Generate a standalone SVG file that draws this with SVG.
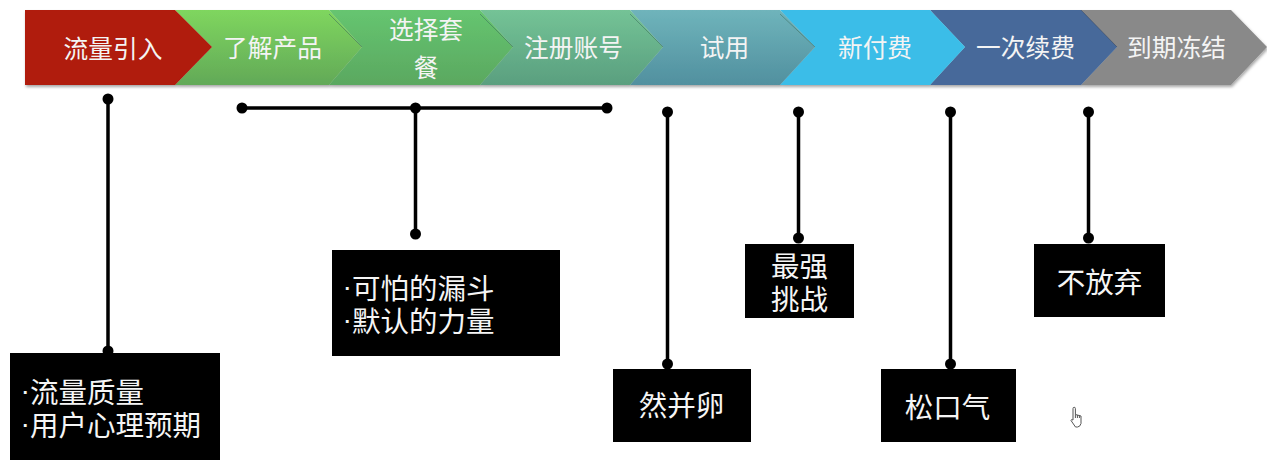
<svg xmlns="http://www.w3.org/2000/svg" width="1267" height="467" viewBox="0 0 1267 467">
<style>
text{font-family:"Noto Sans CJK SC","Noto Sans",sans-serif}
.h{font-size:24.700px;fill:#f4f4f4;text-anchor:middle;dominant-baseline:central}
.b{font-size:28.500px;fill:#f5f5f5;dominant-baseline:central}
.c{font-size:28.500px;fill:#f5f5f5;text-anchor:middle;dominant-baseline:central}
.p{font-family:"Liberation Sans",sans-serif}
.box{fill:#000}
.l{stroke:#000;stroke-width:3.500;fill:none}
.d{fill:#000}
.tick{stroke:#3d6d5c;stroke-width:1;opacity:.55;fill:none}
</style>
<defs>
<linearGradient id="g2" x1="0" y1="0" x2="0" y2="1"><stop offset="0" stop-color="#7fd65e"/><stop offset="1" stop-color="#62a958"/></linearGradient>
<linearGradient id="g3" x1="0" y1="0" x2="0" y2="1"><stop offset="0" stop-color="#66c570"/><stop offset="1" stop-color="#5aa860"/></linearGradient>
<linearGradient id="g4" x1="0" y1="0" x2="0" y2="1"><stop offset="0" stop-color="#74c396"/><stop offset="1" stop-color="#5a9f7f"/></linearGradient>
<linearGradient id="g5" x1="0" y1="0" x2="0" y2="1"><stop offset="0" stop-color="#6fb4bb"/><stop offset="1" stop-color="#51909f"/></linearGradient>
<filter id="s" x="-2%" y="-10%" width="104%" height="125%"><feDropShadow dx="1" dy="2" stdDeviation="1.500" flood-color="#000" flood-opacity=".35"/></filter>
</defs>
<g id="bar" filter="url(#s)">
<g id="step8"><path d="M1081 10H1231L1267 47L1231 85H1081L1117 47Z" fill="#898989"/></g>
<g id="step7"><path d="M930 10H1081L1117 47L1081 85H930L965 47Z" fill="#46699a"/></g>
<g id="step6"><path d="M780 10H930L965 47L930 85H780L815 47Z" fill="#3bbde8"/></g>
<g id="step5"><path d="M630 10H780L815 47L780 85H630L663 47Z" fill="url(#g5)"/></g>
<g id="step4"><path d="M480 10H630L663 47L630 85H480L513 47Z" fill="url(#g4)"/></g>
<g id="step3"><path d="M329 10H480L513 47L480 85H329L362 47Z" fill="url(#g3)"/></g>
<g id="step2"><path d="M175 10H329L362 47L329 85H175L212 47Z" fill="url(#g2)"/></g>
<g id="step1"><path d="M25 10H175L212 47L175 85H25Z" fill="#b01a10"/></g>
</g>
<path class="tick" d="M329 14L362 47M480 14L513 47M630 14L663 47M780 14L815 47"/>
<path d="M1081 10L1117 47" stroke="#2e3f5c" stroke-width="1" opacity=".6" fill="none"/>
<g id="labels">
<text class="h" x="113" y="47">流量引入</text>
<text class="h" x="272.500" y="46">了解产品</text>
<text class="h" x="426" y="28">选择套</text>
<text class="h" x="426" y="66">餐</text>
<text class="h" x="573.500" y="46">注册账号</text>
<text class="h" x="724.500" y="46">试用</text>
<text class="h" x="875" y="46">新付费</text>
<text class="h" x="1025.500" y="46">一次续费</text>
<text class="h" x="1176.500" y="46">到期冻结</text>
</g>
<g id="connectors">
<path class="l" d="M108 99V351M242 108H607M415.500 108V234M667.500 112V364M798.500 112V238M950.500 112V364M1088.500 112V238"/>
<g class="d">
<circle cx="108" cy="99" r="5.500"/><circle cx="108" cy="351" r="5.500"/>
<circle cx="242" cy="108" r="5.500"/><circle cx="415.500" cy="108" r="5.500"/><circle cx="607" cy="108" r="5.500"/><circle cx="415.500" cy="234" r="5.500"/>
<circle cx="667.500" cy="112" r="5.500"/><circle cx="667.500" cy="364" r="5.500"/>
<circle cx="798.500" cy="112" r="5.500"/><circle cx="798.500" cy="238" r="5.500"/>
<circle cx="950.500" cy="112" r="5.500"/><circle cx="950.500" cy="364" r="5.500"/>
<circle cx="1088.500" cy="112" r="5.500"/><circle cx="1088.500" cy="238" r="5.500"/>
</g>
</g>
<g id="box1"><rect class="box" x="10" y="353" width="210" height="107"/>
<text class="b" x="20.500" y="390"><tspan class="p">·</tspan>流量质量</text><text class="b" x="20.500" y="423"><tspan class="p">·</tspan>用户心理预期</text></g>
<g id="box2"><rect class="box" x="332" y="250" width="228" height="106"/>
<text class="b" x="342.500" y="286"><tspan class="p">·</tspan>可怕的漏斗</text><text class="b" x="342.500" y="319"><tspan class="p">·</tspan>默认的力量</text></g>
<g id="box3"><rect class="box" x="613" y="369" width="138" height="73"/><text class="c" x="681.500" y="403">然并卵</text></g>
<g id="box4"><rect class="box" x="745" y="244" width="109" height="74"/><text class="c" x="799.500" y="264">最强</text><text class="c" x="799.500" y="297">挑战</text></g>
<g id="box5"><rect class="box" x="881" y="369" width="135" height="73"/><text class="c" x="947.500" y="405">松口气</text></g>
<g id="box6"><rect class="box" x="1034" y="244" width="131" height="73"/><text class="c" x="1099.500" y="280">不放弃</text></g>
<path id="cursor" d="M1073 408.500a1.200 1.200 0 0 1 2.400 0V414.500L1081 416V423.500Q1080 427 1077.500 427H1075.500L1071 420.500Q1071 419 1073 420ZM1075.400 414.500V418M1077.400 415V418M1079.400 415.500V418" fill="#fff" stroke="#555" stroke-width="1"/>
</svg>
